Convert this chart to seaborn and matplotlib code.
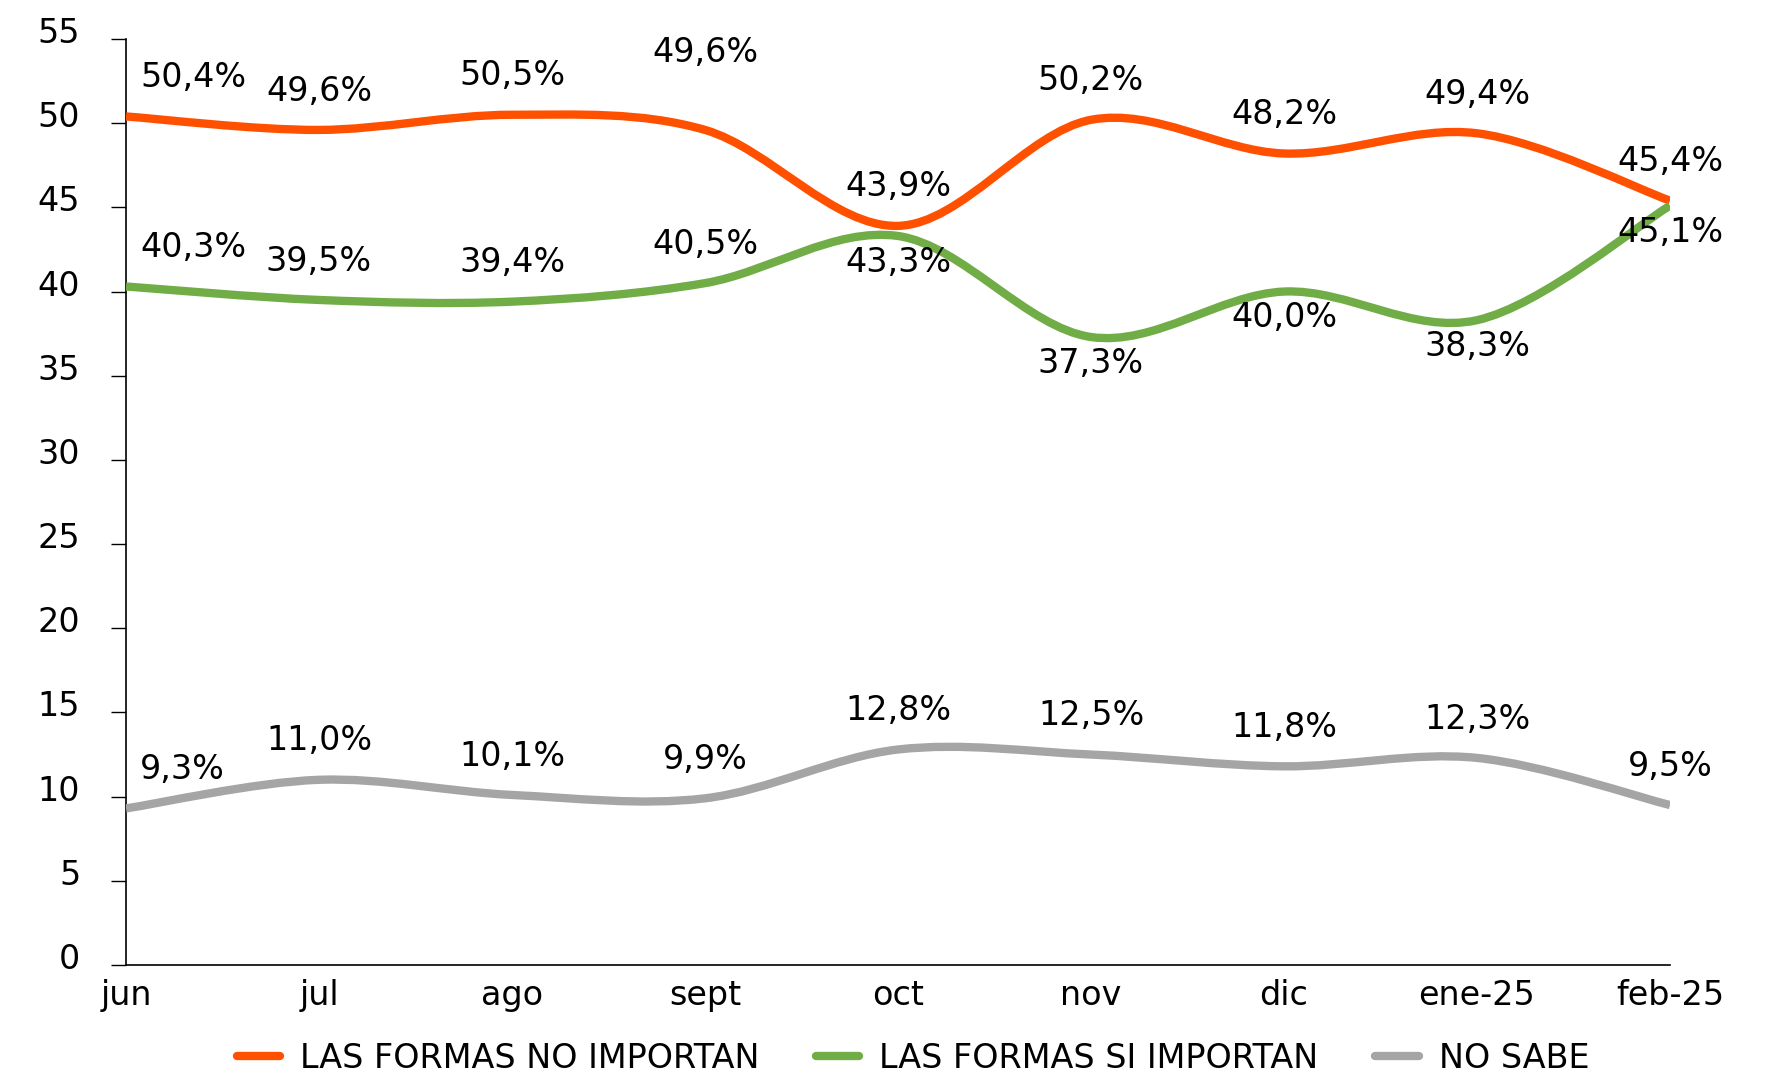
import matplotlib
matplotlib.use("Agg")
import matplotlib.pyplot as plt
from matplotlib.path import Path
from matplotlib.patches import PathPatch
from matplotlib.lines import Line2D
from matplotlib.transforms import ScaledTranslation
import seaborn as sns

# datos de la encuesta
meses = ['jun', 'jul', 'ago', 'sept', 'oct', 'nov', 'dic', 'ene-25', 'feb-25']
no_importan = [50.4, 49.6, 50.5, 49.6, 43.9, 50.2, 48.2, 49.4, 45.4]
si_importan = [40.3, 39.5, 39.4, 40.5, 43.3, 37.3, 40.0, 38.3, 45.1]
no_sabe = [9.3, 11.0, 10.1, 9.9, 12.8, 12.5, 11.8, 12.3, 9.5]

series_nombres = ['LAS FORMAS NO IMPORTAN', 'LAS FORMAS SI IMPORTAN', 'NO SABE']
colores = ['#FF5000', '#70AD47', '#A5A5A5']

sns.set_theme(style="white")
plt.rcParams['font.family'] = ['DejaVu Sans']
plt.rcParams['text.color'] = 'black'
plt.rcParams['xtick.color'] = 'black'
plt.rcParams['ytick.color'] = 'black'
FS = 24


def curva_suave(xs, ys):
    # curva bezier tipo excel (catmull-rom) que pasa por todos los puntos
    pts = list(zip(xs, ys))
    n = len(pts)
    verts = [pts[0]]
    codes = [Path.MOVETO]
    for i in range(n - 1):
        p0 = pts[i - 1] if i > 0 else pts[i]
        p1 = pts[i]
        p2 = pts[i + 1]
        p3 = pts[i + 2] if i + 2 < n else pts[i + 1]
        c1 = (p1[0] + (p2[0] - p0[0]) / 6, p1[1] + (p2[1] - p0[1]) / 6)
        c2 = (p2[0] - (p3[0] - p1[0]) / 6, p2[1] - (p3[1] - p1[1]) / 6)
        verts += [c1, c2, p2]
        codes += [Path.CURVE4] * 3
    return Path(verts, codes)


fig, ax = plt.subplots(figsize=(17.68, 10.77), dpi=100)
fig.subplots_adjust(left=126 / 1768, right=1670 / 1768, bottom=112 / 1077, top=1038 / 1077)

x = list(range(len(meses)))
for vals, col in zip([no_importan, si_importan, no_sabe], colores):
    patch = PathPatch(curva_suave(x, vals), facecolor='none', edgecolor=col,
                      linewidth=6, capstyle='butt', joinstyle='round', zorder=3)
    ax.add_patch(patch)

# etiquetas de datos
def etiquetas(vals, dy, especiales=None):
    for i, v in enumerate(vals):
        off = dy
        if especiales and i in especiales:
            off = especiales[i]
        txt = f"{v:.1f}%".replace('.', ',')
        if i == 0:
            ax.annotate(txt, (i, v), xytext=(10, off), textcoords='offset points',
                        ha='left', va='center', fontsize=FS, color='black', zorder=5)
        else:
            ax.annotate(txt, (i, v), xytext=(0, off), textcoords='offset points',
                        ha='center', va='center', fontsize=FS, color='black', zorder=5)


etiquetas(no_importan, 28, {3: 56})
etiquetas(si_importan, 28, {4: -19, 5: -19, 6: -19, 7: -19, 8: -19})
etiquetas(no_sabe, 28)

ax.set_xlim(0, len(meses) - 1)
ax.set_ylim(0, 55)
ax.set_yticks(range(0, 56, 5))
ax.set_xticks(x)
ax.set_xticklabels(meses)
ax.tick_params(axis='y', length=11, width=1, color='black', labelcolor='black',
               pad=22, labelsize=FS, left=True)
ax.tick_params(axis='x', length=0, pad=10, labelsize=FS, labelcolor='black')
for lab in ax.get_yticklabels():
    lab.set_transform(lab.get_transform() + ScaledTranslation(0, 0.09, fig.dpi_scale_trans))

for s in ['top', 'right']:
    ax.spines[s].set_visible(False)
for s in ['left', 'bottom']:
    ax.spines[s].set_color('black')
    ax.spines[s].set_linewidth(1.2)
ax.grid(False)

handles = [Line2D([], [], color=c, linewidth=6, solid_capstyle='round') for c in colores]
leg = fig.legend(handles, series_nombres, loc='center', bbox_to_anchor=(913 / 1768, 19 / 1077),
                 ncol=3, frameon=False, fontsize=FS, handlelength=1.3, handletextpad=0.6,
                 columnspacing=1.7)
for t in leg.get_texts():
    t.set_color('black')

plt.savefig('out.png', dpi=100)
